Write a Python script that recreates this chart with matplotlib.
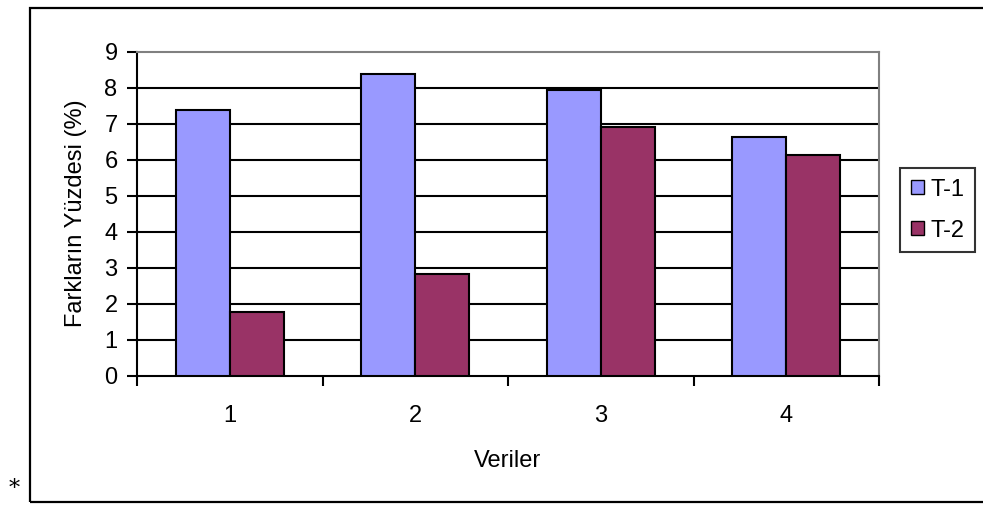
#!/usr/bin/env python

'''Bar chart: percentage of differences (T-1 vs T-2) for each data set.'''

import matplotlib
matplotlib.use('Agg')
import matplotlib.pyplot as plt
from matplotlib.patches import Rectangle, Patch
import numpy as np

plt.rcParams['font.family'] = ['Liberation Sans', 'DejaVu Sans']

########################################################################
# Data

categories = ['1', '2', '3', '4']
t1_values = [7.39, 8.39, 7.93, 6.64]
t2_values = [1.78, 2.81, 6.92, 6.14]
series_names = ['T-1', 'T-2']
y_ticks = [0, 1, 2, 3, 4, 5, 6, 7, 8, 9]

COLOR_T1 = '#9999FF'
COLOR_T2 = '#993366'

FS = 17        # horizontal text
FS_YLABEL = 17 # rotated axis title

########################################################################
# Figure and axes laid out in pixels of a 983x505 image

W, H = 983, 505
fig = plt.figure(figsize=(W / 100, H / 100), dpi=100)

def px_box(left, top, right, bottom):
    return [left / W, 1 - bottom / H, (right - left) / W, (bottom - top) / H]

AX_L, AX_T, AX_R, AX_B = 137, 52, 879, 375.5
ax = fig.add_axes(px_box(AX_L, AX_T, AX_R, AX_B))

x = np.arange(len(categories))
width = 0.291

lw = 1.5
ax.bar(x - width / 2, t1_values, width, color=COLOR_T1,
       edgecolor='black', linewidth=lw, zorder=3)
ax.bar(x + width / 2, t2_values, width, color=COLOR_T2,
       edgecolor='black', linewidth=lw, zorder=3)

ax.set_xlim(-0.5, len(categories) - 0.5)
ax.set_ylim(0, 9)

# horizontal gridlines (the one at 9 is the gray plot border)
for v in y_ticks[1:-1]:
    ax.axhline(v, color='black', linewidth=lw, zorder=1)

ax.set_yticks(y_ticks)
ax.set_yticklabels([str(v) for v in y_ticks])
ax.set_xticks(np.arange(len(categories) + 1) - 0.5)
ax.set_xticklabels([])
ax.set_xticks(x, minor=True)
ax.set_xticklabels(categories, minor=True)

ax.tick_params(axis='both', which='major', direction='out', length=7,
               width=lw, color='black', labelsize=FS)
ax.tick_params(axis='x', which='minor', length=0, labelsize=FS, pad=21)
ax.tick_params(axis='y', pad=7)

for side in ['left', 'bottom']:
    ax.spines[side].set_color('black')
    ax.spines[side].set_linewidth(lw)
for side in ['top', 'right']:
    ax.spines[side].set_color('#808080')
    ax.spines[side].set_linewidth(lw)

ax_w = AX_R - AX_L
ax_h = AX_B - AX_T
ax.set_ylabel('Farkların Yüzdesi (%)', fontsize=FS_YLABEL)
ax.yaxis.set_label_coords((87 - AX_L) / ax_w, (AX_B - 213) / ax_h)
ax.set_xlabel('Veriler', fontsize=FS)
ax.xaxis.set_label_coords(0.5, (AX_B - 450) / ax_h)

########################################################################
# Legend box

handles = [
    Patch(facecolor=COLOR_T1, edgecolor='black', linewidth=1.0),
    Patch(facecolor=COLOR_T2, edgecolor='black', linewidth=1.0),
]
leg = fig.legend(handles, series_names, loc='upper left',
                 bbox_to_anchor=(900 / W, 1 - 168 / H),
                 frameon=True, fancybox=False, fontsize=FS,
                 handlelength=0.55, handleheight=0.55, handletextpad=0.3,
                 labelspacing=0.8, borderpad=0.45, borderaxespad=0)
leg.get_frame().set_edgecolor('black')
leg.get_frame().set_linewidth(lw)

########################################################################
# Outer chart border and the stray asterisk

fig.patches.append(Rectangle((30 / W, 1 - 502 / H), 990 / W, (502 - 8) / H,
                             transform=fig.transFigure, fill=False,
                             edgecolor='black', linewidth=1.6))
fig.text(14 / W, 1 - 489 / H, '*', fontsize=16, ha='center', va='center',
         family='DejaVu Serif')

plt.savefig('out.png', dpi=100)
